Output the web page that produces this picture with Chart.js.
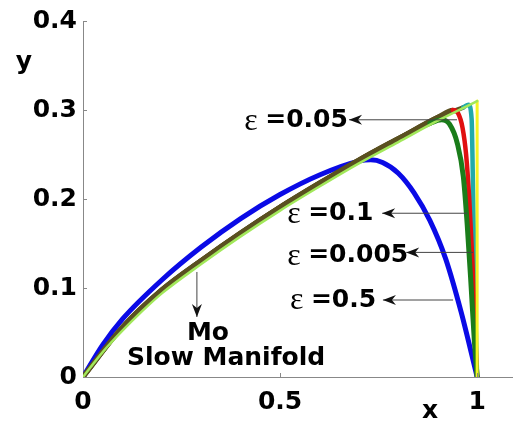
<!DOCTYPE html>
<html>
<head>
<meta charset="utf-8">
<script src="https://cdn.jsdelivr.net/npm/chart.js@4/dist/chart.umd.min.js"></script>
<style>
  body { margin: 0; background: #fff; }
  canvas { display: block; }
</style>
</head>
<body>
<canvas id="chart" width="513" height="428"></canvas>
<script>
// slow manifold Mo and trajectories for several eps

const manifoldX = [0, 0.05, 0.1, 0.15, 0.2, 0.3, 0.4, 0.5, 0.6, 0.7, 0.8, 0.9, 1.0];
const manifoldY = [0, 0.028, 0.052, 0.074, 0.094, 0.127, 0.158, 0.187, 0.214, 0.240, 0.264, 0.288, 0.310];

const edgeX = [1.0, 1.0];
const edgeY = [0.310, 0];

const eps05X = [0, 0.05, 0.1, 0.2, 0.3, 0.4, 0.5, 0.6, 0.7, 0.73, 0.76, 0.8, 0.84, 0.88, 0.92, 0.96, 1.0];
const eps05Y = [0, 0.036, 0.065, 0.109, 0.146, 0.178, 0.205, 0.227, 0.2425, 0.244, 0.241, 0.229, 0.207, 0.176, 0.133, 0.072, 0];

const eps01X = [0, 0.1, 0.2, 0.3, 0.4, 0.5, 0.6, 0.7, 0.8, 0.88, 0.91, 0.93, 0.95, 0.965, 0.975, 0.985, 0.993, 1.0];
const eps01Y = [0, 0.056, 0.098, 0.131, 0.162, 0.191, 0.218, 0.244, 0.268, 0.285, 0.289, 0.284, 0.262, 0.225, 0.170, 0.100, 0.040, 0];

const eps005X = [0, 0.1, 0.2, 0.3, 0.4, 0.5, 0.6, 0.7, 0.8, 0.9, 0.938, 0.952, 0.963, 0.972, 0.98, 0.988, 0.995, 1.0];
const eps005Y = [0, 0.056, 0.098, 0.131, 0.162, 0.191, 0.218, 0.244, 0.268, 0.292, 0.300, 0.296, 0.280, 0.250, 0.200, 0.130, 0.050, 0];

const eps0005X = [0, 0.1, 0.2, 0.3, 0.4, 0.5, 0.6, 0.7, 0.8, 0.9, 0.965, 0.978, 0.986, 0.99, 0.995, 1.0];
const eps0005Y = [0, 0.056, 0.098, 0.131, 0.162, 0.191, 0.218, 0.244, 0.268, 0.292, 0.303, 0.306, 0.290, 0.200, 0.080, 0];

const xTicks = [0, 0.5, 1];
const yTicks = [0, 0.1, 0.2, 0.3, 0.4];

// labels: [text, x, y] and arrows: [fromX, fromY, toX, toY]
const epsLabels = [
  ['=0.05', 0.409, 0.288],
  ['=0.1', 0.518, 0.184],
  ['=0.005', 0.518, 0.136],
  ['=0.5', 0.525, 0.0865]
];
const arrows = [
  [0.949, 0.289, 0.675, 0.289],
  [0.975, 0.184, 0.759, 0.184],
  [0.990, 0.140, 0.820, 0.140],
  [0.939, 0.0865, 0.761, 0.0865],
  [0.289, 0.118, 0.289, 0.0674]
];

function pts(xs, ys) {
  return xs.map((x, i) => ({ x: x, y: ys[i] }));
}

const OLIVE = '#5a5020';
function olive(limit, col) {
  return ctx => (ctx.p1.parsed.x <= limit ? OLIVE : col);
}

const annot = {
  id: 'annot',
  afterDatasetsDraw(chart) {
    const c = chart.ctx;
    const xs = chart.scales.x, ys = chart.scales.y;
    const a = chart.chartArea;
    c.save();

    // inward tick marks
    c.strokeStyle = '#888';
    c.lineWidth = 1;
    yTicks.forEach(v => {
      if (v === 0) return;
      const py = Math.round(ys.getPixelForValue(v)) + 0.5;
      c.beginPath(); c.moveTo(a.left, py); c.lineTo(a.left + 4, py); c.stroke();
    });
    xTicks.forEach(v => {
      if (v === 0) return;
      const px = Math.round(xs.getPixelForValue(v)) + 0.5;
      c.beginPath(); c.moveTo(px, a.bottom); c.lineTo(px, a.bottom - 4); c.stroke();
    });

    // arrows
    c.strokeStyle = '#444';
    c.fillStyle = '#111';
    arrows.forEach(ar => {
      const x1 = xs.getPixelForValue(ar[0]), y1 = ys.getPixelForValue(ar[1]);
      const x2 = xs.getPixelForValue(ar[2]), y2 = ys.getPixelForValue(ar[3]);
      c.lineWidth = 1;
      c.beginPath(); c.moveTo(x1, y1); c.lineTo(x2, y2); c.stroke();
      const ang = Math.atan2(y1 - y2, x1 - x2);
      const cs = Math.cos(ang), sn = Math.sin(ang);
      c.beginPath();
      c.moveTo(x2, y2);
      c.lineTo(x2 + 13 * cs - 5 * sn, y2 + 13 * sn + 5 * cs);
      c.lineTo(x2 + 9 * cs, y2 + 9 * sn);
      c.lineTo(x2 + 13 * cs + 5 * sn, y2 + 13 * sn - 5 * cs);
      c.closePath();
      c.fill();
    });

    // eps labels
    c.fillStyle = '#000';
    c.textBaseline = 'middle';
    c.textAlign = 'left';
    epsLabels.forEach(l => {
      const px = xs.getPixelForValue(l[1]), py = ys.getPixelForValue(l[2]);
      c.font = '32px "Liberation Serif"';
      c.fillText('\u03b5', px, py + 1);
      c.font = 'bold 25px "DejaVu Sans"';
      c.fillText(l[0], px + 21, py);
    });

    // Mo / Slow Manifold
    c.textAlign = 'center';
    c.font = 'bold 25px "DejaVu Sans"';
    c.fillText('Mo', xs.getPixelForValue(0.317), ys.getPixelForValue(0.049));
    c.fillText('Slow Manifold', xs.getPixelForValue(0.363), ys.getPixelForValue(0.021));

    // axis titles
    c.fillText('y', 24, 62);
    c.fillText('x', 430, 411);
    c.restore();
  }
};

const ctx = document.getElementById('chart').getContext('2d');
const myChart = new Chart(ctx, {
  type: 'scatter',
  data: {
    datasets: [
      {
        label: 'Mo',
        data: pts(manifoldX, manifoldY),
        borderColor: '#a2e85a',
        borderWidth: 2.5,
        order: 0
      },
      {
        label: 'edge',
        data: pts(edgeX, edgeY),
        borderColor: '#f4f422',
        borderWidth: 3,
        cubicInterpolationMode: 'default',
        tension: 0,
        order: 1
      },
      {
        label: 'eps=0.1',
        data: pts(eps01X, eps01Y),
        borderColor: '#1a7d1a',
        borderWidth: 5,
        segment: { borderColor: olive(0.88, '#1a7d1a') },
        order: 2
      },
      {
        label: 'eps=0.05',
        data: pts(eps005X, eps005Y),
        borderColor: '#e01010',
        borderWidth: 4.5,
        segment: { borderColor: olive(0.938, '#e01010') },
        order: 3
      },
      {
        label: 'eps=0.005',
        data: pts(eps0005X, eps0005Y),
        borderColor: '#22aaaa',
        borderWidth: 4.5,
        segment: { borderColor: olive(0.965, '#22aaaa') },
        order: 4
      },
      {
        label: 'eps=0.5',
        data: pts(eps05X, eps05Y),
        borderColor: '#0a0ae6',
        borderWidth: 5,
        order: 5
      }
    ]
  },
  options: {
    responsive: false,
    animation: false,
    showLine: true,
    elements: {
      point: { radius: 0, hoverRadius: 0 },
      line: { cubicInterpolationMode: 'monotone', fill: false, borderCapStyle: 'round', borderJoinStyle: 'round' }
    },
    layout: { padding: { top: 21, right: 0, left: 0, bottom: 0 } },
    plugins: {
      legend: { display: false },
      tooltip: { enabled: false }
    },
    scales: {
      x: {
        type: 'linear',
        min: 0,
        max: 1.091,
        grid: { display: false, drawTicks: false },
        border: { display: true, color: '#888', width: 1 },
        afterBuildTicks: s => { s.ticks = xTicks.map(v => ({ value: v })); },
        afterFit: s => { s.height = 51; },
        ticks: {
          color: '#000',
          padding: 10,
          maxRotation: 0,
          autoSkip: false,
          font: { family: 'DejaVu Sans', weight: 'bold', size: 25 },
          callback: v => String(v)
        }
      },
      y: {
        type: 'linear',
        min: 0,
        max: 0.4,
        grid: { display: false, drawTicks: false },
        border: { display: true, color: '#888', width: 1 },
        afterBuildTicks: s => { s.ticks = yTicks.map(v => ({ value: v })); },
        afterFit: s => { s.width = 83; },
        ticks: {
          color: '#000',
          padding: 6,
          autoSkip: false,
          font: { family: 'DejaVu Sans', weight: 'bold', size: 25 },
          callback: v => (v === 0 ? '0' : v.toFixed(1))
        }
      }
    }
  },
  plugins: [annot]
});
</script>
</body>
</html>
